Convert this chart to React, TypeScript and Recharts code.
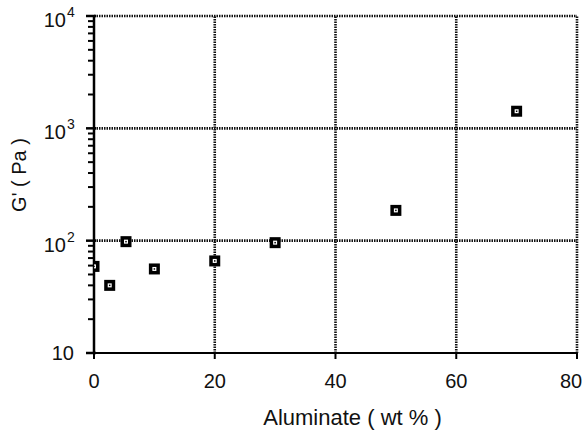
import React from "react";
import {
  ScatterChart,
  Scatter,
  XAxis,
  YAxis,
  ReferenceLine,
  Label,
} from "recharts";

// Aluminate content (wt %) and storage modulus G' (Pa)
const aluminate = [0, 2.6, 5.3, 10, 20, 30, 50, 70];
const modulus = [59, 40, 98, 56, 66, 96, 186, 1420];

const xTicks = [0, 20, 40, 60, 80];
const yMajor = [10, 100, 1000, 10000];
const yExp = ["", "2", "3", "4"];
const yMinor = [2, 3, 4, 5, 6, 7, 8, 9];
const yTicks = [
  ...yMajor,
  ...yMajor.slice(0, 3).flatMap((d) => yMinor.map((m) => d * m)),
].sort((a, b) => a - b);
const xGrid = [20, 40, 60, 80];
const yGrid = [100, 1000, 10000];

const data = aluminate.map((x, i) => ({ x, y: modulus[i] }));

const FONT = "'Liberation Sans', Arial, Helvetica, sans-serif";

const Marker = (props: any) => {
  const { cx, cy } = props;
  return (
    <g>
      <rect x={cx - 5.5} y={cy - 5.5} width={11} height={11} fill="#000" />
      <rect x={cx - 2} y={cy - 2} width={4} height={4} fill="#fff" />
      <rect x={cx - 0.75} y={cy - 0.75} width={1.5} height={1.5} fill="#000" />
    </g>
  );
};

const YTick = (props: any) => {
  const { x, y, payload } = props;
  const idx = yMajor.indexOf(payload.value);
  if (idx < 0) {
    return <line x1={x - 6} x2={x} y1={y} y2={y} stroke="#000" strokeWidth={2} />;
  }
  const exp = yExp[idx];
  return (
    <g>
      <line x1={x - 8} x2={x + 2} y1={y} y2={y} stroke="#000" strokeWidth={2.5} />
      <text
        x={exp ? x - 28 : x - 20}
        y={exp ? y + 11 : y + 7}
        textAnchor="end"
        fontSize={20}
        fontFamily={FONT}
        fill="#111"
      >
        10
      </text>
      {exp && (
        <text x={x - 27} y={y + 1} textAnchor="start" fontSize={14} fontFamily={FONT} fill="#111">
          {exp}
        </text>
      )}
    </g>
  );
};

const XTick = (props: any) => {
  const { x, y, payload } = props;
  const last = payload.value === xTicks[xTicks.length - 1];
  return (
    <g>
      <line x1={x} x2={x} y1={y} y2={y + 6} stroke="#000" strokeWidth={2} />
      <text
        x={last ? x - 6 : x}
        y={y + 35}
        textAnchor="middle"
        fontSize={20}
        fontFamily={FONT}
        fill="#111"
      >
        {payload.value}
      </text>
    </g>
  );
};

const YLabel = (props: any) => {
  const { viewBox } = props;
  const cx = viewBox.x + 19;
  const cy = 175;
  return (
    <text
      x={cx}
      y={cy}
      transform={`rotate(-90 ${cx} ${cy})`}
      textAnchor="middle"
      dominantBaseline="central"
      fontSize={20}
      fontFamily={FONT}
      fill="#111"
    >
      G' ( Pa )
    </text>
  );
};

const XLabel = (props: any) => {
  const { viewBox } = props;
  return (
    <text
      x={viewBox.x + viewBox.width / 2 + 17}
      y={viewBox.y + 72}
      textAnchor="middle"
      fontSize={22}
      fontFamily={FONT}
      fill="#111"
    >
      Aluminate ( wt % )
    </text>
  );
};

export default function App() {
  return (
    <div style={{ position: "absolute", left: 0, top: 0, width: 586, height: 431, background: "#fff" }}>
      <ScatterChart width={586} height={431} margin={{ top: 16, right: 9, left: 0, bottom: 0 }}>
        {xGrid.map((v) => (
          <ReferenceLine key={`x${v}`} x={v} stroke="#111" strokeWidth={2.6} strokeDasharray="1.5 1" />
        ))}
        {yGrid.map((v) => (
          <ReferenceLine key={`y${v}`} y={v} stroke="#111" strokeWidth={2.6} strokeDasharray="1.5 1" />
        ))}
        <XAxis
          type="number"
          dataKey="x"
          domain={[0, 80]}
          ticks={xTicks}
          height={78}
          tickSize={0}
          tickMargin={0}
          tick={<XTick />}
          axisLine={{ stroke: "#000", strokeWidth: 2 }}
          allowDataOverflow
        >
          <Label content={<XLabel />} />
        </XAxis>
        <YAxis
          type="number"
          dataKey="y"
          scale="log"
          domain={[10, 10000]}
          ticks={yTicks}
          interval={0}
          width={94}
          tickSize={0}
          tickMargin={0}
          tick={<YTick />}
          axisLine={{ stroke: "#000", strokeWidth: 2.5 }}
          allowDataOverflow
        >
          <Label content={<YLabel />} />
        </YAxis>
        <Scatter data={data} shape={<Marker />} isAnimationActive={false} />
      </ScatterChart>
    </div>
  );
}
